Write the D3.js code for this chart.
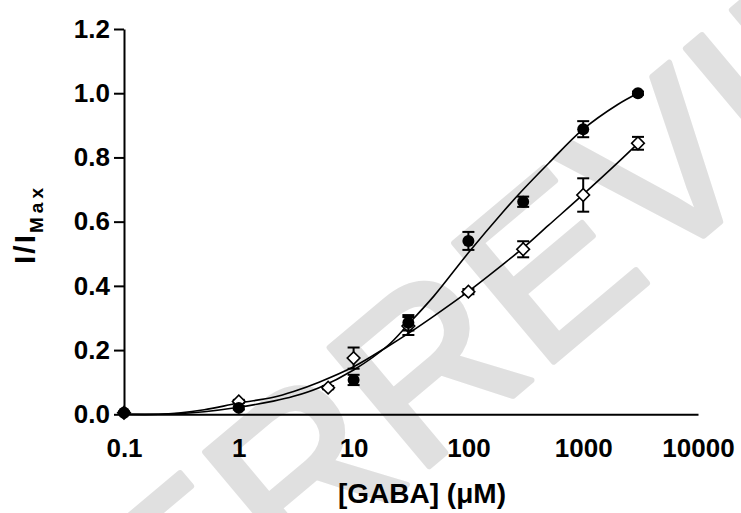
<!DOCTYPE html>
<html>
<head>
<meta charset="utf-8">
<script src="https://cdn.jsdelivr.net/npm/d3@7"></script>
<style>
  body { margin: 0; background: #fff; }
  svg { display: block; font-family: "Liberation Sans", Arial, sans-serif; font-weight: bold; }
</style>
</head>
<body>
<svg id="chart" width="741" height="513"></svg>
<script>
// measured points: filled circles
var circleConc = [0.1, 1, 10, 30, 100, 300, 1000, 3000];
var circleVal = [0.005, 0.02, 0.107, 0.285, 0.54, 0.662, 0.888, 1.0];
var circleErr = [0.003, 0.005, 0.016, 0.024, 0.028, 0.016, 0.025, 0.005];

// measured points: open diamonds
var diamondConc = [0.1, 1, 6, 10, 30, 100, 300, 1000, 3000];
var diamondVal = [0.005, 0.04, 0.083, 0.175, 0.275, 0.382, 0.514, 0.683, 0.844];
var diamondErr = [0.003, 0.005, 0.005, 0.033, 0.028, 0.008, 0.025, 0.052, 0.02];

// fitted curves
var fitConc = [0.1, 0.2, 0.3, 0.5, 1, 2, 3, 5, 10, 20, 30, 50, 100, 200, 300, 500, 1000, 2000, 3000];
var circleFit = [0, 0, 0.002, 0.008, 0.022, 0.041, 0.056, 0.083, 0.138, 0.215, 0.281, 0.368, 0.503, 0.63, 0.7, 0.782, 0.888, 0.965, 1.0];
var diamondFit = [0, 0, 0.004, 0.014, 0.035, 0.053, 0.071, 0.1, 0.148, 0.212, 0.252, 0.306, 0.383, 0.467, 0.518, 0.589, 0.685, 0.784, 0.844];

var xTicks = [0.1, 1, 10, 100, 1000, 10000];
var yTicks = [0, 0.2, 0.4, 0.6, 0.8, 1.0, 1.2];

(function (d3) {
    "use strict";

    var svg = d3.select("#chart");

    var x = d3.scaleLog().domain([0.1, 10000]).range([124, 698]);
    var y = d3.scaleLinear().domain([0, 1.2]).range([414.3, 29]);

    // watermark behind everything
    var wm = svg.append("g")
        .attr("transform", "translate(415,478) rotate(-40)")
        .attr("font-size", 225)
        .attr("font-weight", "normal")
        .attr("fill", "#e0e0e0")
        .attr("stroke", "#e0e0e0")
        .attr("stroke-width", 6)
        .attr("stroke-linejoin", "round");
    wm.append("text").attr("text-anchor", "end").text("PEER ");
    wm.append("text").text("REVIEW");

    // y axis
    var yAxis = svg.append("g")
        .attr("transform", "translate(124,0)")
        .call(d3.axisLeft(y).tickValues(yTicks).tickFormat(d3.format(".1f"))
            .tickSize(10).tickSizeOuter(0).tickPadding(4));
    yAxis.attr("font-family", null).attr("font-size", 26);
    yAxis.selectAll("path, line").attr("stroke", "#000").attr("stroke-width", 2);
    yAxis.selectAll("text").attr("fill", "#000");

    // x axis, no tick marks
    var xAxis = svg.append("g")
        .attr("transform", "translate(0,414.3)")
        .call(d3.axisBottom(x).tickValues(xTicks).tickFormat(d3.format("~g"))
            .tickSize(0).tickSizeOuter(0).tickPadding(24));
    xAxis.attr("font-family", null).attr("font-size", 26);
    xAxis.select(".domain").attr("stroke", "#000").attr("stroke-width", 2);
    xAxis.selectAll("text").attr("fill", "#000");

    // axis titles
    svg.append("text")
        .attr("x", 422).attr("y", 503)
        .attr("text-anchor", "middle")
        .attr("font-size", 28)
        .text("[GABA] (\u03bcM)");

    var yt = svg.append("text")
        .attr("transform", "translate(35,224) rotate(-90)")
        .attr("text-anchor", "middle")
        .attr("font-size", 30);
    yt.append("tspan").attr("letter-spacing", 2).text("I/I");
    yt.append("tspan").attr("font-size", 19).attr("dy", 8).attr("letter-spacing", 4).text("Max");

    // fitted curves
    var line = d3.line()
        .x(function (d) { return x(d[0]); })
        .y(function (d) { return y(d[1]); })
        .curve(d3.curveCatmullRom.alpha(0.5));

    [circleFit, diamondFit].forEach(function (fit) {
        svg.append("path")
            .datum(d3.zip(fitConc, fit))
            .attr("d", line)
            .attr("fill", "none")
            .attr("stroke", "#000")
            .attr("stroke-width", 1.6);
    });

    function errorBars(conc, val, err) {
        var g = svg.append("g").attr("stroke", "#000").attr("stroke-width", 2);
        conc.forEach(function (c, i) {
            var cx = x(c), lo = y(val[i] - err[i]), hi = y(val[i] + err[i]);
            g.append("line").attr("x1", cx).attr("x2", cx).attr("y1", lo).attr("y2", hi);
            g.append("line").attr("x1", cx - 6).attr("x2", cx + 6).attr("y1", lo).attr("y2", lo);
            g.append("line").attr("x1", cx - 6).attr("x2", cx + 6).attr("y1", hi).attr("y2", hi);
        });
    }

    // diamonds first, circles drawn on top
    errorBars(diamondConc, diamondVal, diamondErr);
    svg.append("g").selectAll("path")
        .data(d3.zip(diamondConc, diamondVal))
        .join("path")
        .attr("d", d3.symbol(d3.symbolSquare, 80))
        .attr("transform", function (d) { return "translate(" + x(d[0]) + "," + y(d[1]) + ") rotate(45)"; })
        .attr("fill", "#fff")
        .attr("stroke", "#000")
        .attr("stroke-width", 1.6);

    errorBars(circleConc, circleVal, circleErr);
    svg.append("g").selectAll("circle")
        .data(d3.zip(circleConc, circleVal))
        .join("circle")
        .attr("cx", function (d) { return x(d[0]); })
        .attr("cy", function (d) { return y(d[1]); })
        .attr("r", 6)
        .attr("fill", "#000");

}(window.d3));
</script>
</body>
</html>
